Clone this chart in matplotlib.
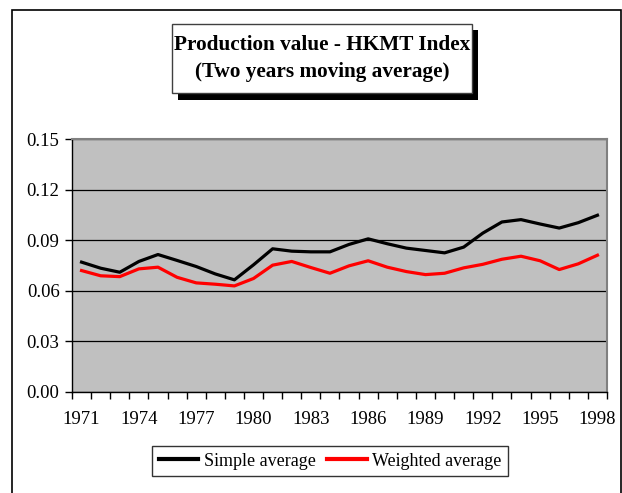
import numpy as np
import matplotlib.pyplot as plt
from matplotlib.patches import Rectangle

# Two years moving average of the HKMT index, 1971-1998
years = list(range(1971, 1999))
simple_avg = [0.0770, 0.0734, 0.0710, 0.0774, 0.0815, 0.0780, 0.0744, 0.0700,
              0.0665, 0.0754, 0.0849, 0.0835, 0.0831, 0.0831, 0.0875, 0.0908,
              0.0879, 0.0853, 0.0839, 0.0825, 0.0859, 0.0942, 0.1008, 0.1022,
              0.0996, 0.0972, 0.1004, 0.1048]
weighted_avg = [0.0720, 0.0689, 0.0684, 0.0730, 0.0740, 0.0680, 0.0647, 0.0639,
                0.0629, 0.0673, 0.0752, 0.0774, 0.0738, 0.0704, 0.0748, 0.0778,
                0.0740, 0.0714, 0.0696, 0.0704, 0.0736, 0.0757, 0.0787, 0.0805,
                0.0778, 0.0726, 0.0760, 0.0811]
y_ticks = [0.00, 0.03, 0.06, 0.09, 0.12, 0.15]
label_years = years[::3]

W, H = 622, 493
plt.rcParams['font.family'] = ['Liberation Serif', 'DejaVu Serif']

fig = plt.figure(figsize=(W / 100, H / 100), dpi=100)

def px_rect(x0, y0, x1, y1, **kw):
    # rectangle given in pixel coordinates measured from the top-left corner
    return Rectangle((x0 / W, 1 - y1 / H), (x1 - x0) / W, (y1 - y0) / H,
                     transform=fig.transFigure, **kw)

# outer chart border (bottom edge runs off the image)
fig.patches.append(px_rect(12, 10, 621, 500, fill=False, edgecolor='black', linewidth=1.2))

ax = fig.add_axes([72 / W, 1 - 392 / H, (607 - 72) / W, (392 - 139) / H])
ax.set_facecolor('#c0c0c0')

x = np.arange(len(years))
ax.plot(x, simple_avg, color='black', linewidth=2.3, label='Simple average', zorder=3)
ax.plot(x, weighted_avg, color='#ff0000', linewidth=2.3, label='Weighted average', zorder=3)

ax.set_xlim(-0.5, len(years) - 0.5)
ax.set_ylim(0, 0.15)
ax.set_yticks(y_ticks)
ax.set_yticklabels([f'{v:.2f}' for v in y_ticks], fontsize=13.5)
ax.yaxis.grid(True, color='black', linewidth=0.9)
ax.set_axisbelow(True)

# ticks between categories, labels every third year at category centres
ax.set_xticks(np.arange(len(years) + 1) - 0.5)
ax.set_xticklabels([])
ax.set_xticks([years.index(y) for y in label_years], minor=True)
ax.set_xticklabels([str(y) for y in label_years], minor=True, fontsize=13.5)
ax.tick_params(axis='x', which='major', direction='out', length=5, width=1, color='black')
ax.tick_params(axis='x', which='minor', length=0, pad=14)
ax.tick_params(axis='y', direction='out', length=5, width=1, pad=4)

for side in ['top', 'right']:
    ax.spines[side].set_color('#808080')
    ax.spines[side].set_linewidth(1.5)
ax.spines['left'].set_linewidth(1.0)
ax.spines['bottom'].set_linewidth(1.0)

# title box with drop shadow
fig.patches.append(px_rect(178, 30, 478, 100, facecolor='black', edgecolor='none'))
fig.patches.append(px_rect(172, 24, 472, 93, facecolor='white', edgecolor='#404040', linewidth=1))
fig.text(322 / W, 1 - 45 / H, 'Production value - HKMT Index', ha='center', va='center',
         fontsize=15.3, fontweight='bold')
fig.text(322 / W, 1 - 72 / H, '(Two years moving average)', ha='center', va='center',
         fontsize=15.3, fontweight='bold')

leg = fig.legend(loc='center', bbox_to_anchor=(330 / W, 1 - 461 / H), ncol=2,
                 fontsize=13, frameon=True, fancybox=False, handlelength=2.2,
                 handletextpad=0.28, columnspacing=0.65, borderpad=0.38,
                 borderaxespad=0)
leg.get_frame().set_edgecolor('black')
leg.get_frame().set_linewidth(1)
for line in leg.get_lines():
    line.set_linewidth(3)

fig.savefig('out.png', dpi=100)
